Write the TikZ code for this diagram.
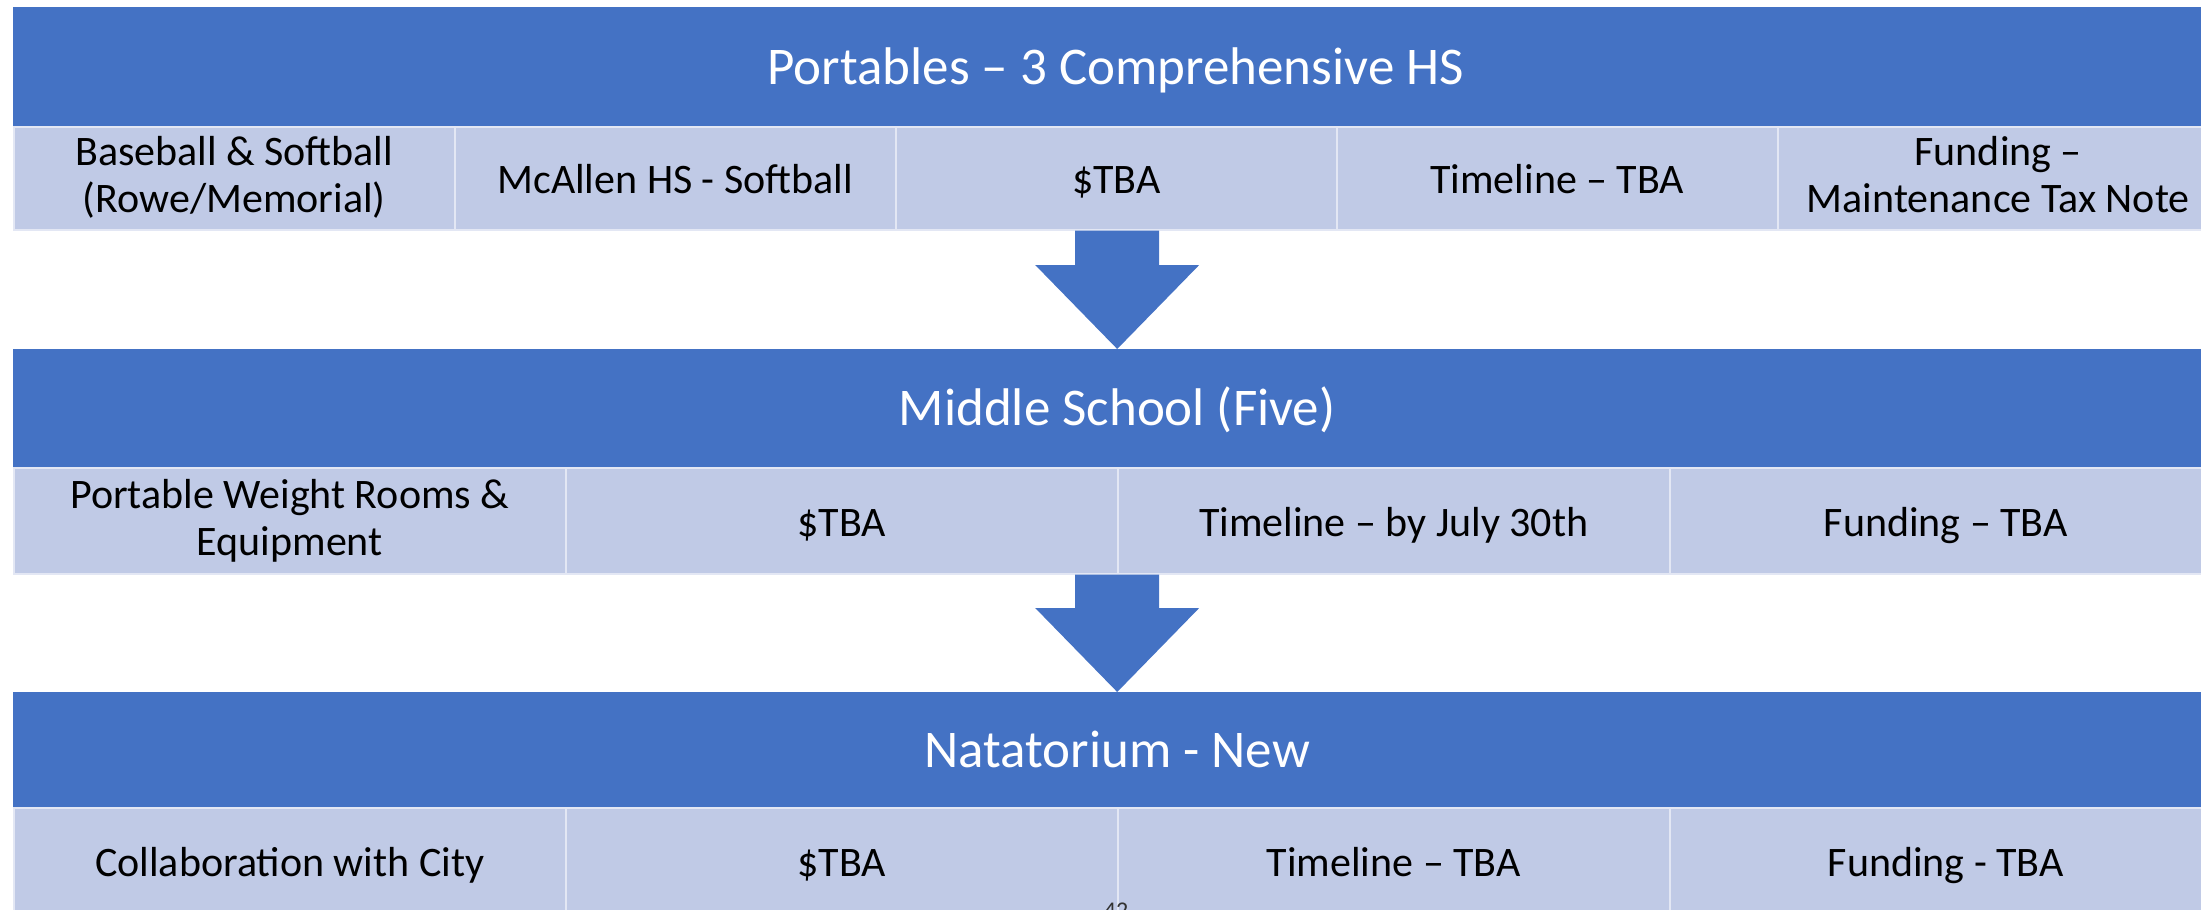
\documentclass[tikz,border=0pt]{standalone}
\usepackage{fontspec}
\setmainfont{Carlito}
\usetikzlibrary{calc}

\definecolor{hdrblue}{HTML}{4472C4}
\definecolor{cellfill}{HTML}{C0CAE6}

\tikzset{
    % Header bands - white text on blue
    header/.style={fill=hdrblue, text=white, anchor=north west, inner sep=0pt,
        font=\fontsize{53}{60}\selectfont,
        execute at begin node={\vrule width0pt height44pt depth9pt}},
    % Detail cells under each band
    cell/.style={fill=cellfill, draw=white!55!cellfill, line width=1.5pt,
        anchor=north west, inner sep=0pt, align=center,
        font=\fontsize{42}{47}\selectfont,
        execute at begin node={\vrule width0pt height38pt},
        execute at end node={\vrule width0pt depth7pt}},
    % Block arrows between the stages
    flow/.style={fill=hdrblue},
}

\begin{document}
\begin{tikzpicture}[x=1pt,y=-1pt]
    \useasboundingbox (0,0) rectangle (2201,910);

    % Stage 1
    \node[header, minimum width=2205pt, minimum height=119pt] (top) at (13,7) {Portables – 3 Comprehensive HS};
    \foreach \txt [count=\i from 0] in {{Baseball \& Softball\\(Rowe/Memorial)}, {McAllen HS - Softball}, {\$TBA}, {Timeline – TBA}, {Funding –\\Maintenance Tax Note}}
        \node[cell, minimum width=441pt, minimum height=103pt] (top\i) at ({13+441*\i},126) {\txt};

    % Stage 2
    \node[header, minimum width=2208pt, minimum height=118pt] (mid) at (13,349) {Middle School (Five)};
    \foreach \txt [count=\i from 0] in {{Portable Weight Rooms \&\\Equipment}, {\$TBA}, {Timeline – by July 30th}, {Funding – TBA}}
        \node[cell, minimum width=552pt, minimum height=106pt] (mid\i) at ({13+552*\i},467) {\txt};

    % Stage 3
    \node[header, minimum width=2208pt, minimum height=115pt] (bot) at (13,692) {Natatorium - New};
    \foreach \txt [count=\i from 0] in {{Collaboration with City}, {\$TBA}, {Timeline – TBA}, {Funding - TBA}}
        \node[cell, minimum width=552pt, minimum height=106pt] (bot\i) at ({13+552*\i},807) {\txt};

    % Arrows
    \foreach \a/\b in {top2.south/mid.north, mid1.south east/bot.north}
        \fill[flow] let \p1=(\a), \p2=(\b) in
            (\x2-42pt,\y1) -- (\x2+42pt,\y1) -- (\x2+42pt,\y2+84pt) -- (\x2+82pt,\y2+84pt)
            -- (\b) -- (\x2-82pt,\y2+84pt) -- (\x2-42pt,\y2+84pt) -- cycle;

    % Slide number, cut off at the bottom
    \node[anchor=north, inner sep=0pt, text=black!80, font=\fontsize{24}{24}\selectfont] (pagenum) at (1116,903) {42};
\end{tikzpicture}
\end{document}
